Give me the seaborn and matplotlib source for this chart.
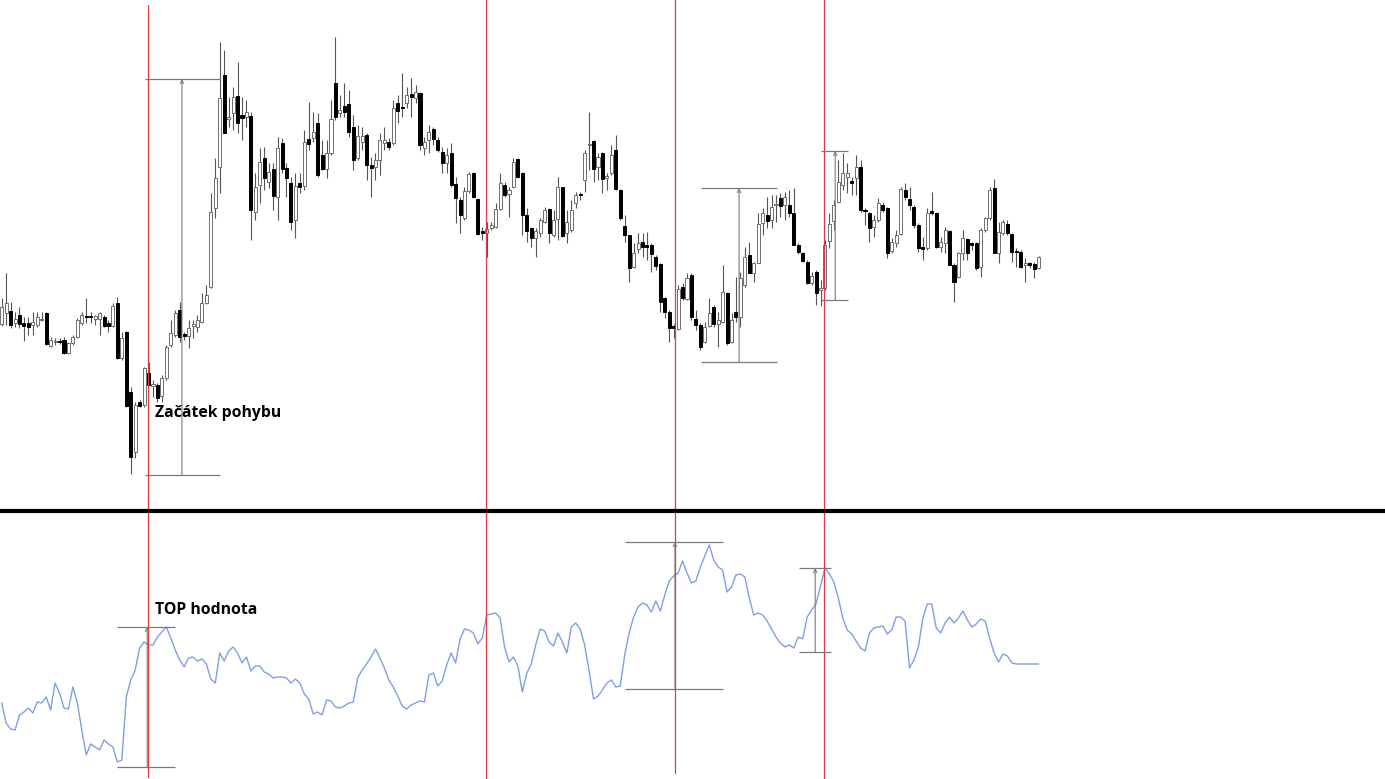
import numpy as np
import pandas as pd
import matplotlib
matplotlib.use("Agg")
import matplotlib.pyplot as plt
import seaborn as sns
from matplotlib.lines import Line2D

# ---------------- data ----------------
opens = [276,287,289,277,285,277,277,275,275,280,
         287,254,258,259,260,247,257,263,277,284,
         284,281,281,283,277,274,297,242,268,208,
         148,198,195,227,214,215,204,222,255,265,
         290,266,264,274,273,278,297,313,392,433,
         525,481,487,504,485,483,484,388,415,442,
         418,431,403,457,432,417,380,417,414,461,
         462,477,445,431,447,517,487,494,496,473,
         442,458,465,435,433,440,457,458,457,497,
         493,497,506,502,507,452,460,471,460,448,
         437,447,416,400,382,409,427,401,369,367,
         372,373,391,415,406,413,441,427,385,372,
         362,367,378,391,365,381,413,367,370,397,
         406,420,455,459,433,447,422,427,450,410,
         374,365,333,351,358,355,355,343,336,302,
         288,274,271,313,301,325,281,275,258,274,
         293,276,278,307,258,288,283,315,345,327,
         337,377,385,380,395,402,395,395,387,355,
         347,338,317,328,310,312,359,379,398,415,
         423,419,422,433,390,387,373,380,395,392,
         349,357,366,410,401,393,375,353,352,389,
         387,353,357,369,335,323,347,361,357,357,
         333,370,382,412,347,367,376,366,349,348,
         335,337,336,332]
closes = [293,297,275,281,276,274,273,278,283,281,
          256,260,259,258,247,257,263,280,285,283,
          283,284,287,274,274,294,242,262,194,143,
          195,194,232,215,216,202,222,253,267,287,
          263,264,272,276,280,297,305,388,422,502,
          467,483,503,477,482,488,390,413,438,422,
          428,404,452,431,422,378,414,413,458,456,
          468,425,431,447,481,483,490,488,468,440,
          464,464,435,432,440,460,460,453,492,489,
          492,505,503,508,455,458,468,461,450,437,
          445,415,402,385,409,426,403,366,367,371,
          375,391,417,405,410,438,423,385,369,362,
          369,380,390,367,380,413,364,378,390,405,
          405,447,456,431,443,421,424,445,411,382,
          365,332,347,357,353,353,346,334,298,288,
          272,272,311,302,322,283,275,253,273,287,
          276,280,308,257,280,283,322,343,327,337,
          376,387,379,393,396,394,403,387,355,348,
          339,317,324,307,312,355,376,395,418,427,
          427,417,433,390,389,372,380,397,390,347,
          358,365,411,403,395,375,352,351,387,387,
          353,358,370,335,318,347,362,347,355,332,
          370,382,410,347,368,378,367,348,348,333,
          337,335,331,343]
highs = [302,327,298,288,293,283,283,288,288,288,
         288,263,262,262,263,258,265,282,288,302,
         288,285,288,285,280,297,303,268,269,213,
         198,200,233,238,220,217,225,255,280,290,
         298,268,280,280,285,307,315,407,442,558,
         550,503,513,538,503,500,488,427,452,453,
         437,437,463,462,437,423,427,427,470,498,
         488,487,460,460,500,563,505,517,510,485,
         475,473,467,443,447,467,473,462,500,505,
         527,513,522,515,508,463,475,473,463,453,
         452,457,423,403,413,428,428,402,373,378,
         378,397,427,418,413,442,442,428,392,373,
         372,382,393,392,390,423,413,390,400,408,
         408,450,488,460,447,448,427,455,465,411,
         385,365,357,367,367,368,357,345,337,303,
         290,276,315,317,327,327,290,277,278,302,
         295,288,335,308,287,323,328,353,358,338,
         387,392,403,405,405,407,408,410,412,357,
         348,340,328,330,320,360,387,400,440,447,
         437,423,445,440,392,388,385,402,398,393,
         362,370,413,417,413,395,377,363,392,408,
         388,363,373,370,337,348,370,362,358,358,
         372,383,413,421,378,380,380,367,352,350,
         342,338,338,344]
lows = [274,275,272,273,272,259,265,265,273,279,
        255,253,255,256,246,246,255,262,275,277,
        277,275,265,273,268,273,241,240,193,126,
        142,193,193,215,203,198,198,220,253,263,
        258,260,252,262,268,277,296,312,382,407,
        467,473,470,467,460,473,360,380,397,410,
        412,390,380,427,403,370,362,407,410,450,
        458,423,430,422,445,480,483,483,463,430,
        440,450,420,403,420,425,450,450,455,477,
        483,492,483,497,450,445,447,455,448,427,
        427,413,377,367,380,407,402,365,360,343,
        370,372,390,403,383,412,422,365,358,353,
        343,363,377,357,363,360,363,357,368,392,
        400,408,430,418,420,407,410,425,410,380,
        358,318,332,347,343,340,328,330,288,282,
        258,262,270,300,300,280,270,250,257,273,
        273,253,277,255,257,278,273,313,327,318,
        337,365,372,372,378,383,380,383,355,346,
        338,316,315,295,294,310,352,370,397,410,
        407,405,405,388,375,358,363,378,388,342,
        347,353,365,400,390,372,348,340,350,385,
        352,348,347,335,298,322,340,340,350,330,
        323,368,380,347,337,365,365,338,333,332,
        318,332,322,331]
indicator = [77,57,51,50,65,68,72,67,78,77,
             83,70,97,87,72,71,93,77,50,25,
             36,33,30,40,36,33,18,20,83,100,
             110,132,138,135,135,143,148,153,142,130,
             120,113,122,123,119,121,116,101,97,127,
             119,129,133,127,117,123,109,114,114,108,
             106,102,103,103,102,97,101,97,86,81,
             66,68,65,80,79,73,72,74,77,78,
             102,110,116,123,131,122,112,100,93,84,
             74,71,75,77,79,78,105,107,94,99,
             115,127,117,141,151,150,147,136,142,165,
             166,167,162,133,118,123,114,88,107,116,
             135,151,149,138,134,147,138,127,153,157,
             151,135,109,81,84,90,97,100,93,94,
             125,147,163,173,177,175,168,179,169,185,
             199,204,207,219,207,197,199,213,224,235,
             220,213,210,188,193,205,206,203,182,165,
             167,165,159,151,143,137,133,135,132,143,
             141,163,170,176,194,212,206,198,182,162,
             150,146,139,132,129,147,152,153,154,146,
             150,163,163,159,112,120,133,162,176,176,
             152,147,157,163,157,162,169,160,153,156,
             161,159,142,127,118,126,124,117,116,116,
             116,116,116,116]

# vertical event markers (bar index)
event_x = [32.9, 108.8, 151.3, 184.8]

# measurement brackets, price panel
top_x0 = [32.2, 157.2, 184.1]
top_x1 = [49.05, 174.2, 190.2]
top_xv = [40.5, 165.7, 187.3]
top_lo = [125, 238, 300]
top_hi = [521, 412, 449]
# measurement brackets, indicator panel
bot_x0 = [25.9, 140.1, 179.2]
bot_x1 = [38.9, 162.1, 186.4]
bot_xv = [32.7, 151.3, 182.8]
bot_lo = [13, 91, 128]
bot_hi = [153, 238, 212]

label_top = "Začátek pohybu"
label_bot = "TOP hodnota"
label_top_pos = (34.5, 187)
label_bot_pos = (34.5, 170)

# ---------------- plotting ----------------
sns.set_theme(style="white")
plt.rcParams['font.family'] = ['Open Sans', 'DejaVu Sans']

df = pd.DataFrame({"o": opens, "c": closes, "h": highs, "l": lows, "ind": indicator})
df["t"] = np.arange(len(df))
df["up"] = df["c"] >= df["o"]

W, H = 1385, 779
fig = plt.figure(figsize=(W / 100, H / 100), dpi=100)
ax1 = fig.add_axes([0, 268 / H, 1, 511 / H])
ax2 = fig.add_axes([0, 0, 1, 266 / H])

xlim = (-0.38, 310.85)

# candles
wick_col = "#555555"
ax1.vlines(df["t"], df["l"], df["h"], color=wick_col, lw=0.8, zorder=2)
body_bottom = df[["o", "c"]].min(axis=1)
body_h = (df["c"] - df["o"]).abs().clip(lower=1.2)
fill = np.where(df["up"], "white", "black")
edge = np.where(df["up"], "#6e6e6e", "black")
ax1.bar(df["t"], body_h, bottom=body_bottom, width=0.68, color=fill,
        edgecolor=edge, linewidth=0.7, zorder=3)

# indicator
sns.lineplot(x=df["t"], y=df["ind"], ax=ax2, color="#7f9fe9", linewidth=1.0, zorder=3)

# event lines
red = "#e8363b"
for i, xv in enumerate(event_x):
    ax1.axvline(xv, color=red, lw=0.9, zorder=4, ymax=(0.99 if i == 0 else 1))
    ax2.axvline(xv, color=red, lw=0.9, zorder=4,
                ymin=(0.008 if i == 0 else (0.022 if i == 2 else 0)))

gray = "#7a7a7a"
for ax, x0s, x1s, xvs, los, his in [(ax1, top_x0, top_x1, top_xv, top_lo, top_hi),
                                    (ax2, bot_x0, bot_x1, bot_xv, bot_lo, bot_hi)]:
    ax.hlines(los, x0s, x1s, color=gray, lw=0.9, zorder=5)
    ax.hlines(his, x0s, x1s, color=gray, lw=0.9, zorder=5)
    for xv, lo, hi in zip(xvs, los, his):
        ax.annotate("", xy=(xv, hi), xytext=(xv, lo),
                    arrowprops=dict(arrowstyle="->", color=gray, lw=0.8,
                                    mutation_scale=6, shrinkA=0, shrinkB=0),
                    zorder=5)

ax1.text(*label_top_pos, label_top, fontsize=11.3, fontweight="bold",
         ha="left", va="center", color="black", zorder=6)
ax2.text(*label_bot_pos, label_bot, fontsize=11.3, fontweight="bold",
         ha="left", va="center", color="black", zorder=6)

ax1.set_xlim(*xlim)
ax2.set_xlim(*xlim)
ax1.set_ylim(89, 600)
ax2.set_ylim(1, 267)
for ax in (ax1, ax2):
    ax.set_axis_off()

# separator between panels
fig.add_artist(Line2D([0, 1], [268 / H, 268 / H], color="black", lw=3.0,
                      transform=fig.transFigure))

fig.savefig("out.png", dpi=100, facecolor="white")
